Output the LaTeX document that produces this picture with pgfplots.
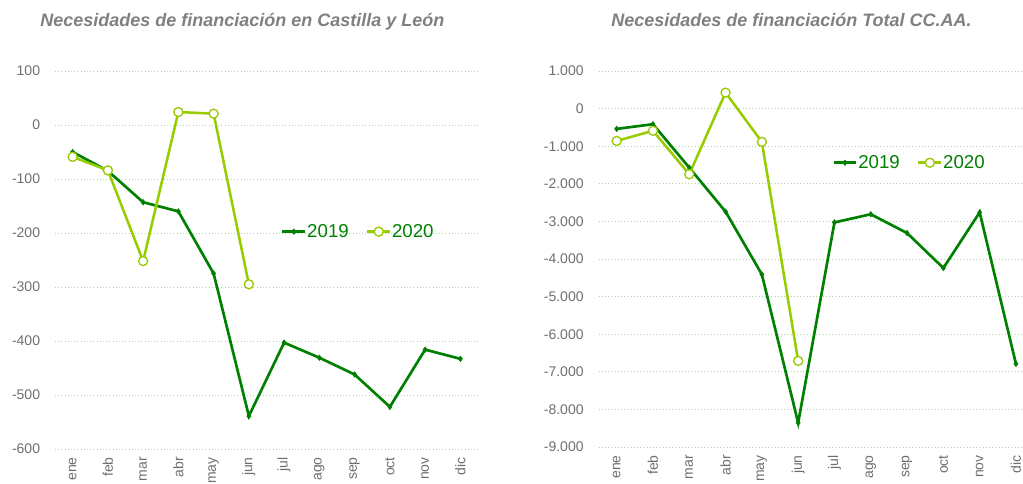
\documentclass[border=0pt]{standalone}
\usepackage{fontspec}
\setmainfont{Liberation Sans}
\usepackage{pgfplots}
\pgfplotsset{compat=1.18}
\definecolor{dgreen}{RGB}{0,128,0}
\definecolor{lgreen}{RGB}{153,204,0}
\definecolor{gridg}{RGB}{175,215,165}
\definecolor{tickgray}{RGB}{110,110,110}
\definecolor{titlegray}{RGB}{128,128,128}
\pgfplotsset{
  mystyle/.style={
    scale only axis,
    anchor=north west,
    xmin=-0.5, xmax=11.5,
    xtick={0,1,2,3,4,5,6,7,8,9,10,11},
    xticklabels={ene,feb,mar,abr,may,jun,jul,ago,sep,oct,nov,dic},
    axis line style={draw=none},
    major tick length=0pt,
    ymajorgrids,
    grid style={dotted, gridg, line width=0.6pt},
    tick label style={font=\fontsize{10.5}{12}\selectfont, text=tickgray},
    xticklabel style={rotate=90, anchor=east, inner sep=0pt},
    xticklabel shift=6pt,
    yticklabel style={anchor=east, inner sep=0pt},
    yticklabel shift=11pt,
    clip=false,
    legend columns=2,
    legend style={draw=none, fill=none, font=\fontsize{14}{16}\selectfont, text=dgreen,
      anchor=west, inner xsep=0pt, inner ysep=0pt,
      /tikz/every odd column/.append style={column sep=-1.5pt},
      /tikz/every even column/.append style={column sep=11pt}},
    legend cell align=left,
  },
  s2019/.style={color=dgreen, line width=2pt, mark=diamond*, mark size=2pt, mark options={fill=dgreen, line width=0.5pt}},
  s2020/.style={color=lgreen, line width=1.9pt, mark=*, mark size=3.4pt, mark options={fill=white, draw=lgreen, line width=1pt}},
}
\begin{document}
\begin{tikzpicture}
\node[anchor=base west, inner sep=0pt, font=\fontsize{13.5}{15}\selectfont\bfseries\itshape, text=titlegray] at (30pt,-20.25pt) {Necesidades de financiación en Castilla y León};
\node[anchor=base west, inner sep=0pt, font=\fontsize{13.5}{15}\selectfont\bfseries\itshape, text=titlegray] at (458.25pt,-20.25pt) {Necesidades de financiación Total CC.AA.};
\begin{axis}[mystyle,
  at={(41.25pt,-53.25pt)}, width=317.25pt, height=283.5pt,
  ymin=-600, ymax=100,
  ytick={-600,-500,-400,-300,-200,-100,0,100},
  yticklabels={-600,-500,-400,-300,-200,-100,0,100},
  legend style={at={(0.534,0.575)}},
]
\addplot[s2019] coordinates {(0,-50) (1,-85) (2,-143) (3,-160) (4,-275) (5,-539) (6,-403) (7,-431) (8,-462) (9,-522) (10,-416) (11,-433)};
\addlegendentry{2019}
\addplot[s2020] coordinates {(0,-59) (1,-84) (2,-252) (3,24) (4,21) (5,-295)};
\addlegendentry{2020}
\end{axis}
\begin{axis}[mystyle,
  at={(448.875pt,-53.25pt)}, width=326.7pt, height=282pt,
  ymin=-9000, ymax=1000,
  ytick={-9000,-8000,-7000,-6000,-5000,-4000,-3000,-2000,-1000,0,1000},
  yticklabels={-9.000,-8.000,-7.000,-6.000,-5.000,-4.000,-3.000,-2.000,-1.000,0,1.000},
  legend style={at={(0.536,0.756)}},
]
\addplot[s2019] coordinates {(0,-540) (1,-415) (2,-1570) (3,-2740) (4,-4410) (5,-8357) (6,-3027) (7,-2810) (8,-3310) (9,-4240) (10,-2760) (11,-6790)};
\addlegendentry{2019}
\addplot[s2020] coordinates {(0,-860) (1,-590) (2,-1745) (3,425) (4,-885) (5,-6710)};
\addlegendentry{2020}
\end{axis}
\pgfresetboundingbox
\path[use as bounding box] (0pt,0pt) rectangle (767.25pt,-363pt);
\end{tikzpicture}
\end{document}
